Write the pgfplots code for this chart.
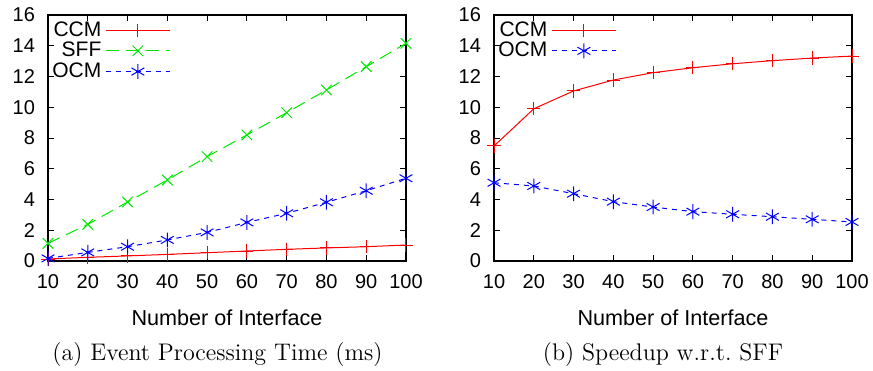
\documentclass[border=0pt]{standalone}
\usepackage{fontspec}
\usepackage{pgfplots}
\pgfplotsset{compat=1.18}
\newfontfamily\hv{Liberation Sans}
\definecolor{gpred}{RGB}{255,0,0}
\definecolor{gpgreen}{RGB}{0,232,0}
\definecolor{gpblue}{RGB}{0,0,255}
\pgfplotsset{
  gp/.style={
    scale only axis, width=179pt, height=123pt,
    xmin=10, xmax=100, ymin=0, ymax=16,
    xtick={10,20,...,100}, ytick={0,2,...,16},
    tick align=inside, major tick length=3pt,
    tick style={black, line width=0.5pt},
    /pgf/number format/assume math mode=true,
    ticklabel style={font=\hv\fontsize{10}{12}\selectfont},
    yticklabel style={xshift=-3pt},
    xticklabel style={yshift=-3pt},
    xlabel={Number of Interface},
    xlabel style={font=\hv\fontsize{10.8}{13}\selectfont, at={(axis description cs:0.5,0)}, anchor=center, yshift=-28.5pt},
    clip=false,
    axis line style={line width=0.6pt},
    every axis plot/.append style={line width=0.5pt},
    legend cell align=right,
    legend plot pos=right,
    legend style={draw=none, fill=none, inner sep=0pt, row sep=-2.5pt,
      font=\hv\fontsize{10.5}{12}\selectfont,
      at={(axis description cs:0,1)}, anchor=north west, yshift=-1pt},
    legend image code/.code={\draw[mark repeat=2,mark phase=2,#1] plot coordinates {(3pt,0pt) (19pt,0pt) (35pt,0pt)};},
  }
}
\begin{document}
\begin{tikzpicture}
\useasboundingbox (0,0) rectangle (436.5pt,185pt);
\begin{axis}[gp, at={(24pt,54.5pt)}, anchor=south west]
\addplot[color=gpred, mark=+, mark size=3.3pt] coordinates {
(10,0.13) (20,0.24) (30,0.33) (40,0.43) (50,0.54) (60,0.65) (70,0.76) (80,0.85) (90,0.93) (100,1.04)};
\addlegendentry{CCM}
\addplot[color=gpgreen, dash pattern=on 6.5pt off 3.5pt, mark=x, mark size=3.7pt, mark options={solid}] coordinates {
(10,1.15) (20,2.38) (30,3.84) (40,5.27) (50,6.79) (60,8.20) (70,9.65) (80,11.12) (90,12.64) (100,14.16)};
\addlegendentry{SFF}
\addplot[color=gpblue, dash pattern=on 2.5pt off 2.5pt, mark=asterisk, mark size=3.7pt, mark options={solid}] coordinates {
(10,0.17) (20,0.56) (30,0.93) (40,1.37) (50,1.86) (60,2.51) (70,3.10) (80,3.82) (90,4.57) (100,5.38)};
\addlegendentry{OCM}
\end{axis}
\begin{axis}[gp, at={(247pt,54.5pt)}, anchor=south west]
\addplot[color=gpred, mark=+, mark size=3.3pt] coordinates {
(10,7.48) (20,9.90) (30,11.06) (40,11.77) (50,12.25) (60,12.57) (70,12.83) (80,13.03) (90,13.20) (100,13.33)};
\addlegendentry{CCM}
\addplot[color=gpblue, dash pattern=on 2.5pt off 2.5pt, mark=asterisk, mark size=3.7pt, mark options={solid}] coordinates {
(10,5.09) (20,4.88) (30,4.38) (40,3.86) (50,3.51) (60,3.21) (70,3.04) (80,2.88) (90,2.71) (100,2.54)};
\addlegendentry{OCM}
\end{axis}
\node[font=\fontsize{12}{14}\selectfont, anchor=base] at (108.75pt,5pt) {(a) Event Processing Time (ms)};
\node[font=\fontsize{12}{14}\selectfont, anchor=base] at (331.5pt,5pt) {(b) Speedup w.r.t.\ SFF};
\end{tikzpicture}
\end{document}
